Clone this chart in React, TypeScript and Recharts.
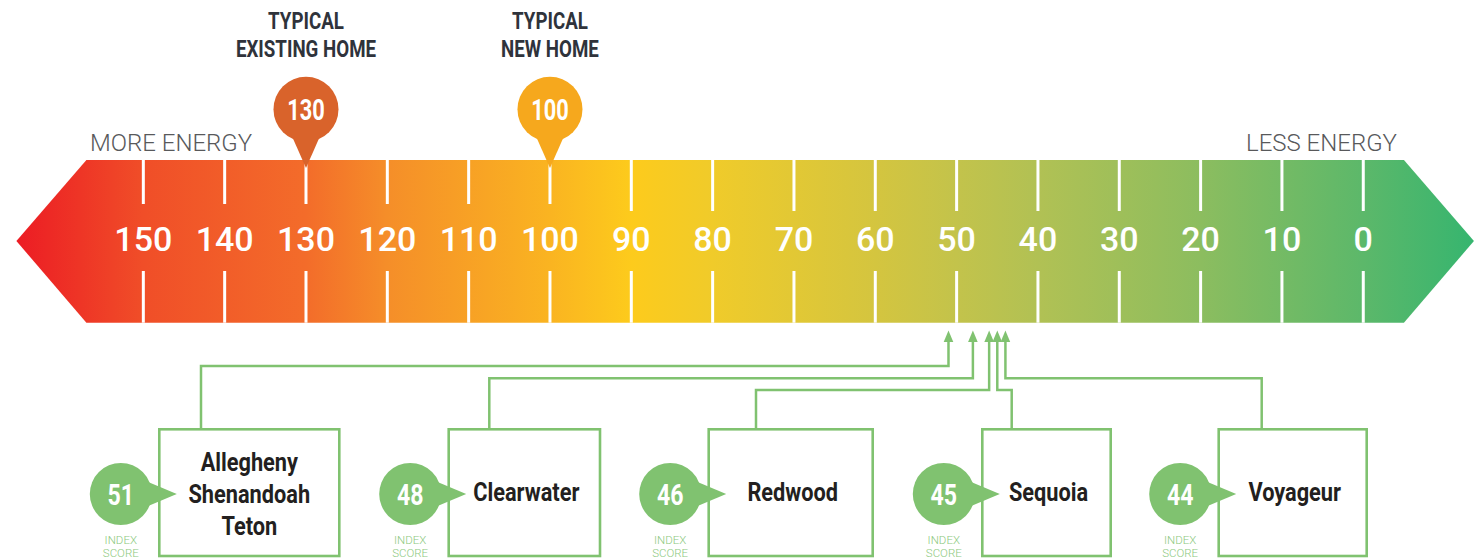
import React from "react";
import {
  ComposedChart,
  ReferenceArea,
  Scatter,
  XAxis,
  YAxis,
} from "recharts";

// scale ticks, most energy on the left
const TICK_VALUES = [150, 140, 130, 120, 110, 100, 90, 80, 70, 60, 50, 40, 30, 20, 10, 0];

// reference homes shown as pins above the scale
const MARKER_VALUES = [130, 100];
const MARKER_TITLES = [
  ["TYPICAL", "EXISTING HOME"],
  ["TYPICAL", "NEW HOME"],
];

// house plans and their index scores
const PLAN_NAMES = [
  ["Allegheny", "Shenandoah", "Teton"],
  ["Clearwater"],
  ["Redwood"],
  ["Sequoia"],
  ["Voyageur"],
];
const PLAN_SCORES = [51, 48, 46, 45, 44];

// ---- layout / styles ----
const W = 1481;
const H = 558;
const BAND_TOP = 160;
const BAND_BOTTOM = 322.7;
const BAND_MID = 241;
const TIP = 70;
const GREEN = "#80C270";
const LABEL_GREEN = "#8CC97E";
const DARK = "#2F333B";
const FONT = "Roboto, 'Noto Sans', sans-serif";
const MARKER_COLORS = ["#D9632B", "#F6A81D"];

// box layout below the scale (pixels)
const BOX_LEFT = [159.3, 448.7, 708.7, 982.3, 1218.7];
const BOX_RIGHT = [339.3, 600, 872.7, 1110.7, 1366.7];
const BOX_LINK_X = [201, 489.3, 756, 1011.7, 1261.7];
const ELBOW_Y = [366, 378.3, 390, 390, 378.3];
const BOX_TOP = 429.3;
const BOX_BOTTOM = 556;

const GRADIENT: [number, string][] = [
  [166, "#EC1C24"],
  [150, "#F04E28"],
  [130, "#F36C2A"],
  [120, "#F58E29"],
  [100, "#FAB421"],
  [90, "#FDCB1C"],
  [80, "#F0CB2A"],
  [60, "#D4C53F"],
  [50, "#C3C34B"],
  [40, "#B1C154"],
  [20, "#8CBD5F"],
  [0, "#5CB86A"],
  [-14, "#36B56F"],
];

const tickData = TICK_VALUES.map((v) => ({ x: v, y: 0.5 }));
const markerData = MARKER_VALUES.map((v, i) => ({ x: v, y: 0.5, i }));
const planData = PLAN_SCORES.map((s, i) => ({ x: s, y: 0.5, i }));

const BAND_FROM = 157;
const BAND_TO = -5;

// condensed bold text, squeezed horizontally
function Narrow({ x, y, size, fill, sx = 0.78, children }: any) {
  return (
    <text
      transform={`translate(${x},${y}) scale(${sx},1)`}
      textAnchor="middle"
      fill={fill}
      fontFamily={FONT}
      fontWeight={700}
      fontSize={size}
    >
      {children}
    </text>
  );
}

function Band(props: any) {
  const { x, width } = props;
  const L = x;
  const R = x + width;
  const toPx = (v: number) => L + ((BAND_FROM - v) / (BAND_FROM - BAND_TO)) * width;
  const x1 = L - TIP;
  const x2 = R + TIP;
  return (
    <g>
      <defs>
        <linearGradient id="bandGrad" gradientUnits="userSpaceOnUse" x1={x1} x2={x2} y1={0} y2={0}>
          {GRADIENT.map(([v, c]) => (
            <stop key={v} offset={Math.min(1, Math.max(0, (toPx(v) - x1) / (x2 - x1)))} stopColor={c} />
          ))}
        </linearGradient>
      </defs>
      <polygon
        points={`${L},${BAND_TOP} ${R},${BAND_TOP} ${x2},${BAND_MID} ${R},${BAND_BOTTOM} ${L},${BAND_BOTTOM} ${x1},${BAND_MID}`}
        fill="url(#bandGrad)"
      />
      <text x={90} y={151} fill="#58595B" fontFamily="Roboto" fontWeight={300} fontSize={24}>
        MORE ENERGY
      </text>
      <text x={1397} y={151} textAnchor="end" fill="#58595B" fontFamily="Roboto" fontWeight={300} fontSize={24}>
        LESS ENERGY
      </text>
    </g>
  );
}

function ScaleTick(props: any) {
  const { cx, payload } = props;
  const label = String(payload.x);
  const topEnd = label.length >= 3 ? 204 : 211;
  return (
    <g>
      <line x1={cx} x2={cx} y1={BAND_TOP} y2={topEnd} stroke="#fff" strokeWidth={3} />
      <line x1={cx} x2={cx} y1={271} y2={BAND_BOTTOM} stroke="#fff" strokeWidth={3} />
      <text x={cx} y={251} textAnchor="middle" fill="#fff" fontFamily="Roboto" fontWeight={500} fontSize={34}>
        {label}
      </text>
    </g>
  );
}

function Pin(props: any) {
  const { cx, payload } = props;
  const i = payload.i;
  const color = MARKER_COLORS[i];
  const [l1, l2] = MARKER_TITLES[i];
  return (
    <g>
      <Narrow x={cx} y={29} size={24} fill={DARK}>{l1}</Narrow>
      <Narrow x={cx} y={57} size={24} fill={DARK}>{l2}</Narrow>
      <circle cx={cx} cy={109.3} r={32.5} fill={color} />
      <polygon points={`${cx - 15},${134} ${cx + 15},${134} ${cx},${168}`} fill={color} />
      <Narrow x={cx} y={120} size={29.5} fill="#fff" sx={0.74}>{payload.x}</Narrow>
    </g>
  );
}

function Plan(props: any) {
  const { cx, payload } = props;
  const i = payload.i;
  const left = BOX_LEFT[i];
  const right = BOX_RIGHT[i];
  const linkX = BOX_LINK_X[i];
  const ey = ELBOW_Y[i];
  const bx = left - 38.5;
  const by = 494;
  const names = PLAN_NAMES[i];
  const tx = (left + right) / 2 + (names.length > 1 ? 0 : 2);
  const firstBase = names.length > 1 ? 471 : 501;
  return (
    <g>
      <polygon points={`${cx},${330.5} ${cx - 4.8},${342} ${cx + 4.8},${342}`} fill={GREEN} />
      <polyline
        points={`${cx},${341} ${cx},${ey} ${linkX},${ey} ${linkX},${BOX_TOP}`}
        fill="none"
        stroke={GREEN}
        strokeWidth={2.5}
      />
      <rect x={left} y={BOX_TOP} width={right - left} height={BOX_BOTTOM - BOX_TOP} fill="#fff" stroke={GREEN} strokeWidth={2.6} />
      {names.map((n, k) => (
        <Narrow key={n} x={tx} y={firstBase + k * 32.2} size={25} fill="#231F20" sx={0.87}>
          {n}
        </Narrow>
      ))}
      <circle cx={bx} cy={by} r={31} fill={GREEN} />
      <polygon points={`${bx + 25},${by - 13} ${left + 17.5},${by} ${bx + 25},${by + 13}`} fill={GREEN} />
      <Narrow x={bx} y={by + 11} size={30} fill="#fff" sx={0.77}>{payload.x}</Narrow>
      <text x={bx} y={544} textAnchor="middle" fill={LABEL_GREEN} fontFamily="Roboto" fontWeight={300} fontSize={11.5}>
        INDEX
      </text>
      <text x={bx} y={556.5} textAnchor="middle" fill={LABEL_GREEN} fontFamily="Roboto" fontWeight={300} fontSize={11.5}>
        SCORE
      </text>
    </g>
  );
}

export default function App() {
  return (
    <div style={{ position: "absolute", left: 0, top: 0, width: W, height: H, background: "#fff" }}>
      <ComposedChart width={W} height={H} margin={{ top: 0, right: 36.4, left: 62, bottom: 0 }}>
        <XAxis type="number" dataKey="x" domain={[-10, 160]} reversed hide allowDataOverflow />
        <YAxis type="number" dataKey="y" domain={[0, 1]} hide width={0} />
        <ReferenceArea x1={BAND_FROM} x2={BAND_TO} shape={<Band />} />
        <Scatter data={tickData} shape={<ScaleTick />} isAnimationActive={false} />
        <Scatter data={planData} shape={<Plan />} isAnimationActive={false} />
        <Scatter data={markerData} shape={<Pin />} isAnimationActive={false} />
      </ComposedChart>
    </div>
  );
}
